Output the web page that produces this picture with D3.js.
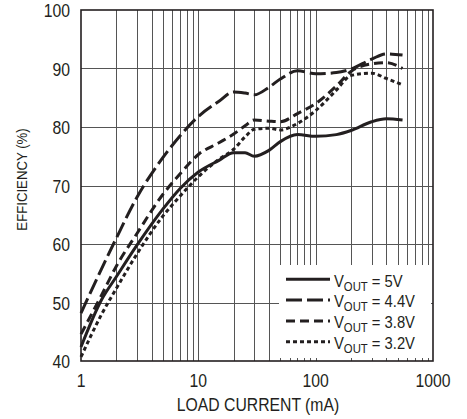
<!DOCTYPE html>
<html>
<head>
<meta charset="utf-8">
<script src="https://cdn.jsdelivr.net/npm/d3@7"></script>
<style>
  body { margin: 0; background: #fff; }
  svg { display: block; }
  text { font-family: "Liberation Sans Narrow", "Arial Narrow", "Liberation Sans", Arial, sans-serif; fill: #231f20; }
</style>
</head>
<body>
<svg id="chart" width="467" height="419"></svg>
<script>
// load current (mA) where the curves were read
const current = [1, 1.5, 2, 3, 5, 7, 10, 15, 20, 25, 30, 40, 50, 70, 100, 150, 200, 300, 400, 550];

// efficiency (%) for each output voltage
const eff5v0 = [42.4, 50.5, 54.4, 59.8, 66, 69.5, 72.3, 74.3, 75.6, 75.6, 75.0, 76, 77.5, 78.7, 78.4, 78.7, 79.4, 80.9, 81.4, 81.2];
const eff4v4 = [48.2, 55.8, 61, 68, 74.8, 78.5, 81.8, 84.4, 86, 85.8, 85.5, 86.8, 88.2, 89.6, 89.1, 89.3, 89.9, 91.6, 92.5, 92.3];
const eff3v8 = [44.6, 51.3, 56.2, 61.8, 68.5, 72, 75.3, 77.3, 78.8, 80.2, 81.2, 81, 80.9, 82.3, 84, 87, 89.5, 90.8, 91, 90];
const eff3v2 = [40.7, 48, 52.4, 58.3, 64.8, 68.2, 71.5, 74.5, 76.2, 78.3, 79.6, 79.8, 79.5, 80.6, 82.8, 86.3, 88.8, 89.2, 88.3, 87.2];

const seriesLabels = ["5V", "4.4V", "3.8V", "3.2V"];
const seriesDash = ["none", "16,5", "9,5", "4,3"];

const xTicks = [1, 10, 100, 1000];
const yTicks = [40, 50, 60, 70, 80, 90, 100];

const margin = {top: 10, right: 34, bottom: 58, left: 81};
const width = 467 - margin.left - margin.right;
const height = 419 - margin.top - margin.bottom;
const squeeze = 0.83; // the original type is a condensed face

const x = d3.scaleLog().domain([1, 1000]).range([0, width]);
const y = d3.scaleLinear().domain([40, 100]).range([height, 0]);

const svg = d3.select('#chart');
const chart = svg.append('g')
    .attr('transform', `translate(${ margin.left },${ margin.top })`);

// grid: every minor decade step vertically, every 10% horizontally
const minor = [];
for (let dec = 1; dec < 1000; dec *= 10) {
  for (let k = 2; k <= 9; k++) minor.push(dec * k);
}
minor.push(10, 100);

chart.append('g')
    .selectAll('line')
    .data(minor)
  .enter().append('line')
    .attr('x1', (d) => Math.round(x(d)) + 0.5)
    .attr('x2', (d) => Math.round(x(d)) + 0.5)
    .attr('y1', 0)
    .attr('y2', height)
    .attr('stroke', '#555')
    .attr('stroke-width', 1);

chart.append('g')
    .selectAll('line')
    .data(yTicks.slice(1, -1))
  .enter().append('line')
    .attr('x1', 0)
    .attr('x2', width)
    .attr('y1', (d) => Math.round(y(d)) + 0.5)
    .attr('y2', (d) => Math.round(y(d)) + 0.5)
    .attr('stroke', '#555')
    .attr('stroke-width', 1);

// legend background hides the grid under it
const legend = chart.append('g')
    .attr('transform', `translate(${ 279 - margin.left },${ 265 - margin.top })`);

legend.append('rect')
    .attr('width', 152)
    .attr('height', 93)
    .attr('fill', '#fff');

// curves
const line = d3.line()
    .x((d) => x(d[0]))
    .y((d) => y(d[1]))
    .curve(d3.curveMonotoneX);

[eff5v0, eff4v4, eff3v8, eff3v2].forEach((vals, i) => {
  chart.append('path')
      .datum(current.map((c, j) => [c, vals[j]]))
      .attr('d', line)
      .attr('fill', 'none')
      .attr('stroke', '#231f20')
      .attr('stroke-width', 3)
      .attr('stroke-dasharray', seriesDash[i]);
});

// frame
chart.append('rect')
    .attr('width', width)
    .attr('height', height)
    .attr('fill', 'none')
    .attr('stroke', '#231f20')
    .attr('stroke-width', 1.6);

// tick labels
chart.append('g')
    .selectAll('text')
    .data(xTicks)
  .enter().append('text')
    .attr('transform', (d) => `translate(${ x(d) },${ height + 26 }) scale(${ squeeze },1)`)
    .attr('text-anchor', 'middle')
    .style('font-size', '19px')
    .text((d) => d);

chart.append('g')
    .selectAll('text')
    .data(yTicks)
  .enter().append('text')
    .attr('transform', (d) => `translate(-11,${ y(d) + 7 }) scale(${ squeeze },1)`)
    .attr('text-anchor', 'end')
    .style('font-size', '19px')
    .text((d) => d);

// axis titles
svg.append('text')
    .attr('transform', `translate(${ margin.left + width / 2 + 1 },411) scale(${ squeeze },1)`)
    .attr('text-anchor', 'middle')
    .style('font-size', '19px')
    .text('LOAD CURRENT (mA)');

svg.append('text')
    .attr('transform', `translate(27,${ margin.top + height / 2 - 6 }) rotate(-90) scale(0.88,1)`)
    .attr('text-anchor', 'middle')
    .style('font-size', '15px')
    .text('EFFICIENCY (%)');

// legend rows
seriesLabels.forEach((lab, i) => {
  const cy = 14.3 + i * 20.8;
  legend.append('line')
      .attr('x1', 7)
      .attr('x2', 51)
      .attr('y1', cy)
      .attr('y2', cy)
      .attr('stroke', '#231f20')
      .attr('stroke-width', 3)
      .attr('stroke-dasharray', seriesDash[i]);

  const t = legend.append('text')
      .attr('transform', `translate(55,${ cy + 7.3 }) scale(0.87,1)`)
      .style('font-size', '17px');
  t.append('tspan').text('V');
  t.append('tspan').attr('dy', 4).style('font-size', '13px').text('OUT');
  t.append('tspan').attr('dy', -4).text(` = ${ lab }`);
});
</script>
</body>
</html>
